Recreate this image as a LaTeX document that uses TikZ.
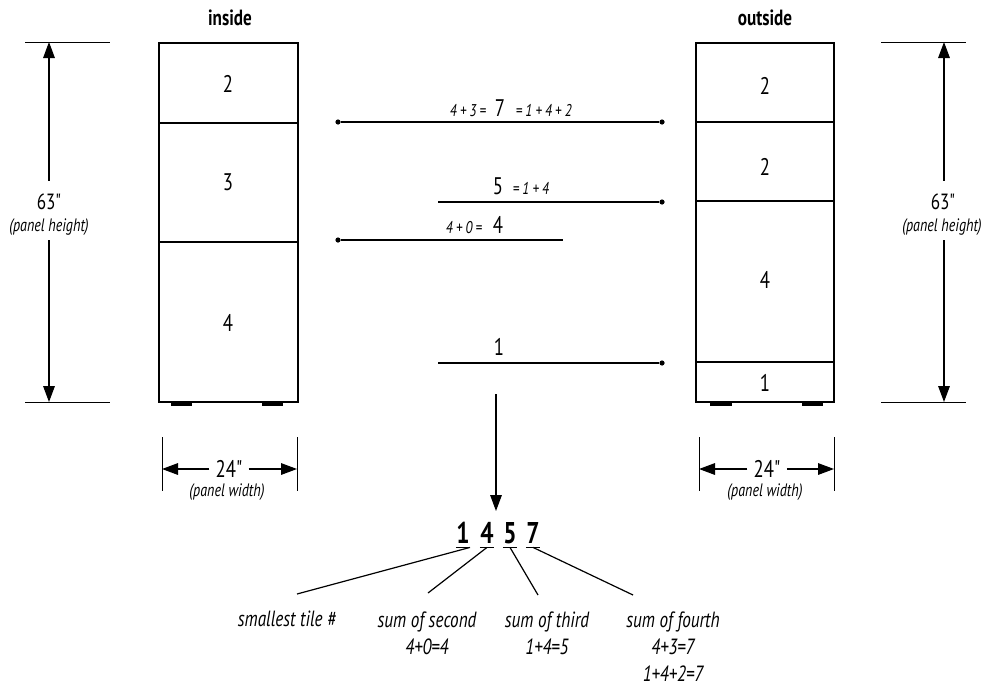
\documentclass[tikz,border=0pt]{standalone}
\usepackage{fontspec}
\setmainfont[FakeStretch=0.78,Ligatures=TeXOff]{PT Sans}
\usetikzlibrary{arrows.meta,positioning}

\newcommand{\plusgap}{\hspace{1.6pt}}

\tikzset{
  panel/.style={line width=1.2pt},
  divider/.style={line width=1.4pt},
  foot/.style={fill=black},
  tilenum/.style={font=\fontsize{12}{14}\selectfont},
  title/.style={font=\bfseries\fontsize{11}{13}\selectfont, anchor=base},
  dimline/.style={line width=0.5pt},
  dimarrow/.style={line width=0.6pt,-{Triangle[length=8pt,width=5.8pt]}},
  dimtext/.style={font=\fontsize{11}{13}\selectfont, inner sep=0pt, anchor=base},
  dimnote/.style={font=\itshape\fontsize{9}{11}\selectfont, inner sep=0pt, anchor=base},
  sumline/.style={line width=0.6pt},
  dot/.style={circle, fill, inner sep=0pt, minimum size=2.6pt},
  bignum/.style={font=\fontsize{12}{14}\selectfont, inner sep=0pt, anchor=base},
  smallsum/.style={font=\itshape\fontsize{8.5}{10}\selectfont, inner sep=0pt},
  code/.style={font=\bfseries\fontsize{15}{18}\selectfont, inner xsep=0pt, inner ysep=2pt, text depth=0pt, anchor=base},
  note/.style={font=\itshape\fontsize{11}{13.5}\selectfont, align=center, inner sep=0pt, anchor=north}
}

\begin{document}
\begin{tikzpicture}[x=0.5pt,y=-0.5pt]
\useasboundingbox (0,0) rectangle (984,686);

% inside panel
\node[title] (intitle) at (230,25) {inside};
\draw[panel] (159,43) rectangle (298,402);
\draw[divider] (159,123) -- (298,123);
\draw[divider] (159,242) -- (298,242);
\fill[foot] (171,402) rectangle (192,406);
\fill[foot] (262,402) rectangle (283,406);
\node[tilenum] (in2) at (228,84) {2};
\node[tilenum] (in3) at (228,182) {3};
\node[tilenum] (in4) at (228,323) {4};

% outside panel
\node[title] (outtitle) at (765,25) {outside};
\draw[panel] (696,43) rectangle (834,402);
\draw[divider, line width=1pt] (696,122) -- (834,122);
\draw[divider] (696,201) -- (834,201);
\draw[divider] (696,362) -- (834,362);
\fill[foot] (710,402) rectangle (732,406);
\fill[foot] (802,402) rectangle (823,406);
\node[tilenum] (out2a) at (765,86) {2};
\node[tilenum] (out2b) at (765,167) {2};
\node[tilenum] (out4) at (765,280) {4};
\node[tilenum] (out1) at (765,383) {1};

% panel height, left
\draw[dimline] (25,42) -- (110,42);
\draw[dimline] (25,402) -- (110,402);
\coordinate (lhtop) at (49,42);
\coordinate (lhbot) at (49,402);
\node[dimtext] (lh63) at (49,209) {63"};
\node[dimnote] (lhnote) at (49,231) {(panel height)};
\draw[dimarrow] ([yshift=6pt]lh63.north) -- (lhtop);
\draw[dimarrow] ([yshift=-2.5pt]lhnote.south) -- (lhbot);

% panel height, right
\draw[dimline] (881,42) -- (966,42);
\draw[dimline] (881,402) -- (966,402);
\coordinate (rhtop) at (944,42);
\coordinate (rhbot) at (944,402);
\node[dimtext] (rh63) at (943,209) {63"};
\node[dimnote] (rhnote) at (942,231) {(panel height)};
\draw[dimarrow] ([yshift=6pt]rh63.north -| rhtop) -- (rhtop);
\draw[dimarrow] ([yshift=-2.5pt]rhnote.south -| rhbot) -- (rhbot);

% panel width, left
\draw[dimline] (162,437) -- (162,491);
\draw[dimline] (297,437) -- (297,491);
\coordinate (lwl) at (162,469);
\coordinate (lwr) at (297,469);
\node[dimtext, font=\fontsize{12}{14}\selectfont] (lw24) at (229,477) {24"};
\node[dimnote] (lwnote) at (227,496) {(panel width)};
\draw[dimarrow] ([xshift=-3pt]lw24.west |- lwl) -- (lwl);
\draw[dimarrow] ([xshift=3pt]lw24.east |- lwr) -- (lwr);

% panel width, right
\draw[dimline] (699,437) -- (699,491);
\draw[dimline] (834,437) -- (834,491);
\coordinate (rwl) at (699,469);
\coordinate (rwr) at (834,469);
\node[dimtext, font=\fontsize{12}{14}\selectfont] (rw24) at (767,477) {24"};
\node[dimnote] (rwnote) at (765,496) {(panel width)};
\draw[dimarrow] ([xshift=-3pt]rw24.west |- rwl) -- (rwl);
\draw[dimarrow] ([xshift=3pt]rw24.east |- rwr) -- (rwr);

% sums between the panels
\node[dot] (s7l) at (338,122) {};
\node[dot] (s7r) at (662,122) {};
\draw[sumline] (s7l) -- (s7r);
\node[bignum] (n7) at (500,116) {7};
\node[smallsum, base left=4pt of n7] (n7l) {4\plusgap+\plusgap3\plusgap=};
\node[smallsum, base right=5pt of n7] (n7r) {=\plusgap1\plusgap+\plusgap4\plusgap+\plusgap2};

\coordinate (s5l) at (438,202);
\node[dot] (s5r) at (662,202) {};
\draw[sumline] (s5l) -- (s5r);
\node[bignum] (n5) at (498,194) {5};
\node[smallsum, base right=4.5pt of n5] (n5r) {=\plusgap1\plusgap+\plusgap4};

\node[dot] (s4l) at (338,240) {};
\coordinate (s4r) at (563,240);
\draw[sumline] (s4l) -- (s4r);
\node[bignum] (n4) at (498,233) {4};
\node[smallsum, base left=5pt of n4] (n4l) {4\plusgap+\plusgap0\plusgap=};

\coordinate (s1l) at (438,363);
\node[dot] (s1r) at (662,363) {};
\draw[sumline] (s1l) -- (s1r);
\node[bignum] (n1) at (499,355) {1};

% result
\coordinate (arrtop) at (496,394);
\coordinate (arrtip) at (496,511);
\draw[dimarrow] (arrtop) -- (arrtip);

\node[code] (d1) at (463,543) {1};
\node[code] (d4) at (487,543) {4};
\node[code] (d5) at (510,543) {5};
\node[code] (d7) at (533,543) {7};
\foreach \d in {d1,d4,d5,d7}
  \draw[line width=0.8pt] (\d.south west) -- (\d.south east);

\node[note] (t1) at (287,611) {smallest tile \#};
\node[note] (t4) at (427,611) {sum of second\\4+0=4};
\node[note] (t5) at (547,611) {sum of third\\1+4=5};
\node[note] (t7) at (673,611) {sum of fourth\\4+3=7\\1+4+2=7};

\coordinate (e1) at (297,594);
\coordinate (e4) at (428,593);
\coordinate (e5) at (538,595);
\coordinate (e7) at (633,595);
\draw[sumline] (d1.south east) -- (e1);
\draw[sumline] (d4.south) -- (e4);
\draw[sumline] (d5.south) -- (e5);
\draw[sumline] (d7.south) -- (e7);
\end{tikzpicture}
\end{document}
